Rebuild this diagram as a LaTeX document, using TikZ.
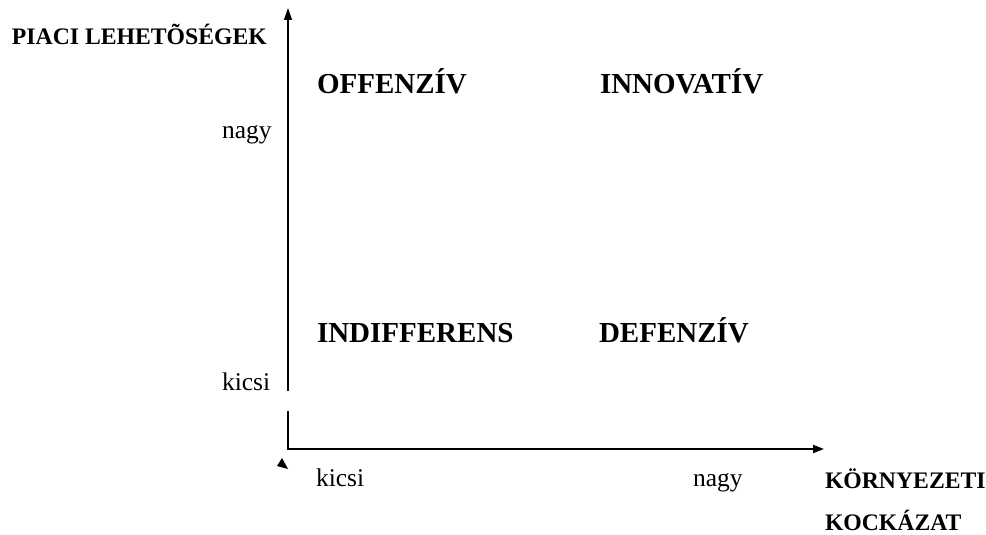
\documentclass[tikz,border=0pt]{standalone}
\usepackage{fontspec}
\setmainfont{Liberation Serif}
\usetikzlibrary{arrows.meta}
\tikzset{
  lbl/.style={anchor=base west,inner sep=0pt,outer sep=0pt},
  axlbl/.style={lbl,font=\bfseries\fontsize{23.7}{28}\selectfont},
  quad/.style={lbl,font=\bfseries\fontsize{29}{34}\selectfont},
  tick/.style={lbl,font=\fontsize{25.5}{30}\selectfont},
  axthin/.style={line width=1.3pt,-{Triangle[length=12pt,width=8pt]}},
  axthick/.style={line width=2pt,-{Triangle[length=11pt,width=8pt]}}
}
\begin{document}
\begin{tikzpicture}[x=1pt,y=-1pt]
\useasboundingbox (0,0) rectangle (986,535);
% axes
\coordinate (vlow) at (288,391);
\coordinate (vtop) at (288,8);
\coordinate (hstart) at (288,412);
\coordinate (corner) at (288,449);
\coordinate (hend) at (824,449);
\draw[axthin] (vlow) -- (vtop);
\draw[line width=2pt,line cap=rect] (hstart) -- (corner);
\draw[axthick] (corner) -- (hend);
\fill (282,458) -- (277,466) -- (288,469) -- cycle;
% axis labels
\node[axlbl] (ylab) at (12,45) {PIACI LEHETÕSÉGEK};
\node[axlbl] (xlab1) at (825,488) {KÖRNYEZETI};
\node[axlbl] (xlab2) at (825,530) {KOCKÁZAT};
% ticks
\node[tick] (ynagy) at (222,138) {nagy};
\node[tick] (ykicsi) at (222,390) {kicsi};
\node[tick] (xkicsi) at (316,486) {kicsi};
\node[tick] (xnagy) at (693,486) {nagy};
% quadrants
\node[quad] (off) at (317,93) {OFFENZÍV};
\node[quad] (inn) at (600,93) {INNOVATÍV};
\node[quad] (ind) at (317,342) {INDIFFERENS};
\node[quad] (def) at (599,342) {DEFENZÍV};
\end{tikzpicture}
\end{document}
